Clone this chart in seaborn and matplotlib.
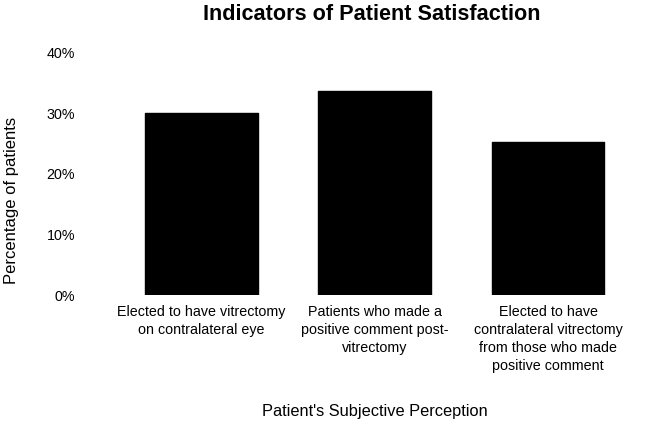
import matplotlib
matplotlib.use("Agg")
import matplotlib.pyplot as plt
import seaborn as sns
import pandas as pd
from matplotlib.ticker import FuncFormatter

categories = [
    "Elected to have vitrectomy\non contralateral eye",
    "Patients who made a\npositive comment post-\nvitrectomy",
    "Elected to have\ncontralateral vitrectomy\nfrom those who made\npositive comment",
]
values = [30.1, 33.7, 25.3]
yticks = [0, 10, 20, 30, 40]

sns.set_theme(style="white")
plt.rcParams['font.family'] = ['Liberation Sans', 'DejaVu Sans']

df = pd.DataFrame({"cat": categories, "val": values})

fig = plt.figure(figsize=(6.69, 4.23), dpi=100)
ax = fig.add_axes([114.7/669, 1 - 295/423, (634.7-114.7)/669, (295-52.5)/423])
sns.barplot(data=df, x="cat", y="val", color="black", width=0.65, ax=ax,
            edgecolor="black", linewidth=1.0)
for p in ax.patches:
    p.set_joinstyle("round")
    p.set_facecolor("black")

ax.set_ylim(0, 40)
ax.set_xlim(-0.5, 2.5)
ax.set_yticks(yticks)
ax.yaxis.set_major_formatter(FuncFormatter(lambda v, _: f"{int(v)}%"))
for s in ax.spines.values():
    s.set_visible(False)
ax.tick_params(axis="both", length=0, labelsize=10.3, colors="black")
ax.tick_params(axis="y", pad=28.5)
ax.tick_params(axis="x", pad=7)
for t in ax.get_xticklabels():
    t.set_linespacing(1.38)
ax.set_xlabel("")
ax.set_ylabel("")
fig.text((114.7+634.7)/2/669, 1 - 411/423, "Patient's Subjective Perception",
         fontsize=11.8, ha="center", va="center", color="black")
fig.text(12/669, 1 - 200/423, "Percentage of patients", rotation=90,
         fontsize=12, ha="center", va="center", color="black")
fig.text((114.7+634.7)/2/669 - 3/669, 1 - 14/423, "Indicators of Patient Satisfaction",
         fontsize=15.6, fontweight="bold", ha="center", va="center", color="black")

fig.savefig("out.png", dpi=100)
